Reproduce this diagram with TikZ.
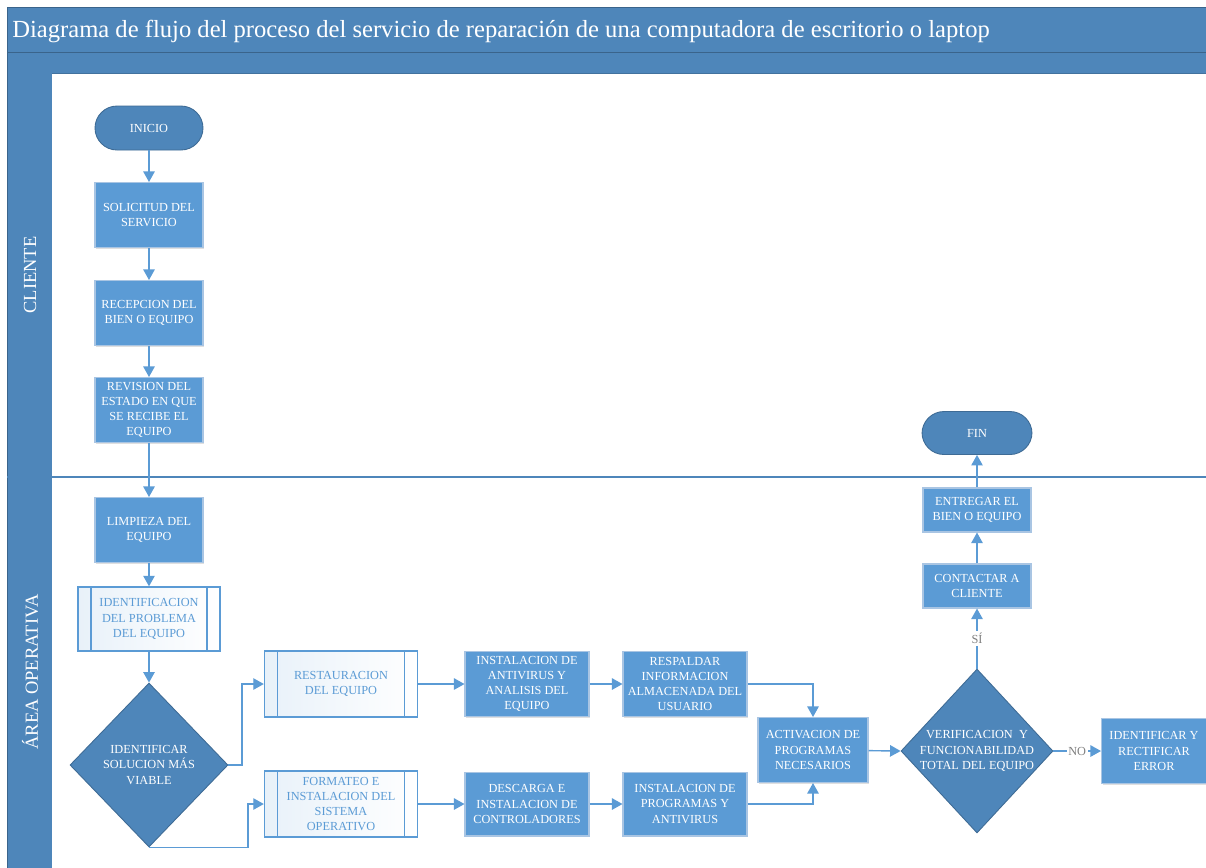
\documentclass[tikz,border=0pt]{standalone}
\usepackage{fontspec}
\setmainfont{Liberation Serif}
\usetikzlibrary{shapes.geometric,arrows.meta,shadows}
\definecolor{laneblue}{HTML}{4E86BA}
\definecolor{boxblue}{HTML}{5B9BD5}
\definecolor{edgeblue}{HTML}{A9C5E3}
\definecolor{lineblue}{HTML}{5B9BD5}
\newcommand{\boxfont}{\fontsize{7}{8.6}\selectfont}
\tikzset{
	proc/.style={rectangle, fill=boxblue, draw=edgeblue, line width=0.6pt, text=white, font=\boxfont, align=center, inner sep=1pt, drop shadow={shadow xshift=0.6pt, shadow yshift=-0.6pt, opacity=0.25}},
	term/.style={rectangle, rounded corners=0.44cm, fill=laneblue, draw=laneblue!80!black, line width=0.5pt, text=white, font=\boxfont, minimum width=2.16cm, minimum height=0.88cm},
	predef/.style={rectangle, draw=boxblue, line width=0.8pt, left color=boxblue!14, right color=white, text=boxblue, font=\boxfont, align=center, inner sep=1pt,
		path picture={\draw[boxblue, line width=0.8pt] ([xshift=0.26cm]path picture bounding box.north west) -- ([xshift=0.26cm]path picture bounding box.south west) ([xshift=-0.26cm]path picture bounding box.north east) -- ([xshift=-0.26cm]path picture bounding box.south east);}},
	decision/.style={diamond, fill=laneblue, draw=laneblue!80!black, line width=0.5pt, inner sep=0pt},
	decitext/.style={text=white, font=\boxfont, align=center},
	flow/.style={draw=lineblue, line width=0.8pt, -{Triangle[width=6.5pt,length=6pt]}},
	tag/.style={fill=white, text=gray, font=\boxfont, inner sep=1pt},
	lanetext/.style={text=white, rotate=90, font=\fontsize{10.5}{12}\selectfont},
}
\begin{document}
\begin{tikzpicture}[x=0.02cm, y=-0.02cm]
	\useasboundingbox (0,0) rectangle (1206,867);
	\fill[white] (0,0) rectangle (1206,867);
	\fill[laneblue] (7,7) rectangle (1220,73);
	\fill[laneblue] (7,73) rectangle (52,880);
	\draw[laneblue!75!black, line width=0.5pt] (1220,7) -- (7,7) -- (7,880);
	\draw[laneblue!75!black, line width=0.5pt] (7,52) -- (1220,52);
	\draw[laneblue!85!black, line width=0.5pt] (52,73) -- (1220,73);
	\draw[laneblue, line width=0.8pt] (7,477) -- (1220,477);
	\node[anchor=west, text=white, font=\fontsize{14}{16}\selectfont, inner sep=0pt] (titulo) at (12,31) {Diagrama de flujo del proceso del servicio de reparación de una computadora de escritorio o laptop};
	\node[lanetext] (cliente) at (30,275) {CLIENTE};
	\node[lanetext] (operativa) at (30,672) {ÁREA OPERATIVA};

	\node[term] (inicio) at (149,128) {INICIO};
	\node[proc, minimum width=2.16cm, minimum height=1.3cm] (solicitud) at (149,215) {SOLICITUD DEL\\SERVICIO};
	\node[proc, minimum width=2.16cm, minimum height=1.3cm] (recepcion) at (149,313) {RECEPCION DEL\\BIEN O EQUIPO};
	\node[proc, minimum width=2.16cm, minimum height=1.3cm] (revision) at (149,410) {REVISION DEL\\ESTADO EN QUE\\SE RECIBE EL\\EQUIPO};
	\node[proc, minimum width=2.16cm, minimum height=1.3cm] (limpieza) at (149,530) {LIMPIEZA DEL\\EQUIPO};
	\node[predef, minimum width=2.84cm, minimum height=1.28cm] (identif) at (149,619) {IDENTIFICACION\\DEL PROBLEMA\\DEL EQUIPO};
	\node[decision, minimum width=3.16cm, minimum height=3.28cm, label={[decitext]center:IDENTIFICAR\\SOLUCION MÁS\\VIABLE}] (solucion) at (149,765) {};
	\node[predef, minimum width=3.06cm, minimum height=1.32cm] (restaura) at (341,684) {RESTAURACION\\DEL EQUIPO};
	\node[predef, minimum width=3.06cm, minimum height=1.32cm] (formateo) at (341,804) {FORMATEO E\\INSTALACION DEL\\SISTEMA\\OPERATIVO};
	\node[proc, minimum width=2.48cm, minimum height=1.3cm] (antivirus) at (527,684) {INSTALACION DE\\ANTIVIRUS Y\\ANALISIS DEL\\EQUIPO};
	\node[proc, minimum width=2.48cm, minimum height=1.3cm] (respaldo) at (685,684) {RESPALDAR\\INFORMACION\\ALMACENADA DEL\\USUARIO};
	\node[proc, minimum width=2.48cm, minimum height=1.28cm] (descarga) at (527,804) {DESCARGA E\\INSTALACION DE\\CONTROLADORES};
	\node[proc, minimum width=2.48cm, minimum height=1.28cm] (programas) at (685,804) {INSTALACION DE\\PROGRAMAS Y\\ANTIVIRUS};
	\node[proc, minimum width=2.2cm, minimum height=1.3cm] (activa) at (813,750) {ACTIVACION DE\\PROGRAMAS\\NECESARIOS};
	\node[decision, minimum width=3.04cm, minimum height=3.28cm, label={[decitext]center:VERIFICACION\ \ Y\\FUNCIONABILIDAD\\TOTAL DEL EQUIPO}] (verifica) at (977,751) {};
	\node[proc, minimum width=2.1cm, minimum height=1.3cm] (rectifica) at (1154,751) {IDENTIFICAR Y\\RECTIFICAR\\ERROR};
	\node[proc, minimum width=2.16cm, minimum height=0.88cm] (contacta) at (977,586) {CONTACTAR A\\CLIENTE};
	\node[proc, minimum width=2.16cm, minimum height=0.88cm] (entrega) at (977,510) {ENTREGAR EL\\BIEN O EQUIPO};
	\node[term, minimum width=2.2cm, minimum height=0.86cm] (fin) at (977,433) {FIN};

	\draw[flow] (inicio) -- (solicitud);
	\draw[flow] (solicitud) -- (recepcion);
	\draw[flow] (recepcion) -- (revision);
	\draw[flow] (revision) -- (limpieza);
	\draw[flow] (limpieza) -- (identif);
	\draw[flow] (identif) -- (solucion);
	\draw[flow] (solucion.east) -| ([xshift=-0.44cm]restaura.west) -- (restaura.west);
	\draw[flow] (solucion.south) -| ([xshift=-0.32cm]formateo.west) -- (formateo.west);
	\draw[flow] (restaura) -- (antivirus);
	\draw[flow] (antivirus) -- (respaldo);
	\draw[flow] (formateo) -- (descarga);
	\draw[flow] (descarga) -- (programas);
	\draw[flow] (respaldo.east) -| (activa.north);
	\draw[flow] (programas.east) -| (activa.south);
	\draw[flow] (activa) -- (verifica.west);
	\draw[flow] (verifica.east) -- node[tag] (no) {NO} (rectifica);
	\draw[flow] (verifica.north) -- node[tag] (si) {SÍ} (contacta);
	\draw[flow] (contacta) -- (entrega);
	\draw[flow] (entrega) -- (fin);
\end{tikzpicture}
\end{document}
